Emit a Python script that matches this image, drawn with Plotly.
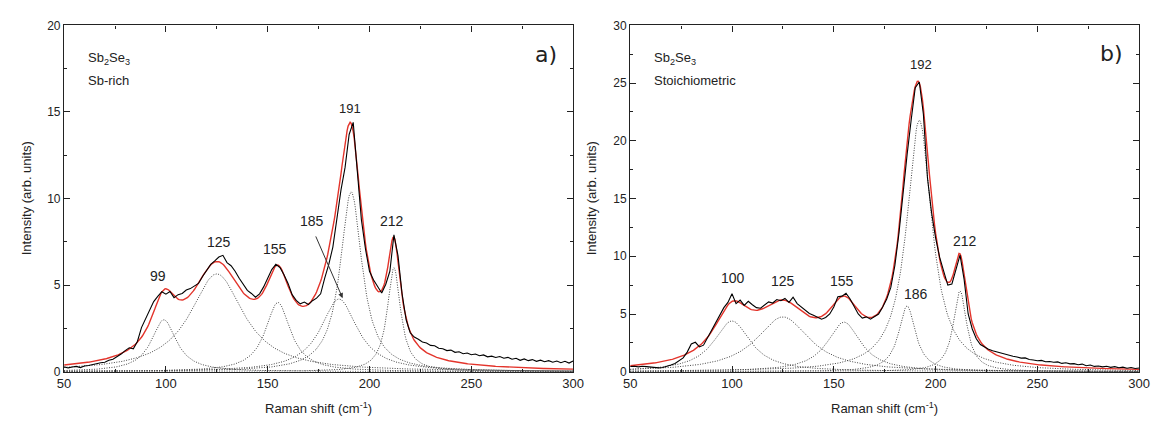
import numpy as np
import plotly.graph_objects as go

# ---------------- measured Raman spectra (step 2 cm-1, 50..300) ----------------
shift = list(range(50, 301, 2))

intensity_sb_rich = [
    0.28, 0.22, 0.27, 0.31, 0.24, 0.33, 0.36, 0.42, 0.44, 0.52,
    0.55, 0.66, 0.72, 0.86, 1.02, 1.22, 1.38, 1.32, 1.75, 2.55,
    3.05, 3.55, 4.05, 4.35, 4.62, 4.48, 4.63, 4.28, 4.45, 4.52,
    4.72, 4.80, 4.95, 5.10, 5.50, 5.85, 6.20, 6.40, 6.62, 6.72,
    6.30, 6.12, 5.80, 5.40, 5.02, 4.70, 4.52, 4.30, 4.50, 4.90,
    5.40, 5.90, 6.20, 6.02, 5.60, 5.10, 4.45, 4.12, 3.92, 4.02,
    3.88, 4.10, 4.25, 4.50, 5.40, 6.20, 7.20, 8.80, 10.50, 11.80,
    13.70, 14.40, 11.40, 8.80, 7.10, 5.80, 5.30, 4.90, 4.55, 5.05,
    5.80, 7.90, 6.70, 4.50, 3.00, 2.25, 2.00, 1.88, 1.72, 1.66,
    1.52, 1.50, 1.36, 1.33, 1.22, 1.25, 1.12, 1.15, 1.04, 1.08,
    0.98, 1.02, 0.92, 0.97, 0.86, 0.90, 0.82, 0.88, 0.78, 0.83,
    0.72, 0.78, 0.66, 0.74, 0.64, 0.70, 0.60, 0.67, 0.58, 0.64,
    0.55, 0.62, 0.52, 0.60, 0.50, 0.62,
]

intensity_stoich = [
    0.45, 0.48, 0.42, 0.47, 0.44, 0.40, 0.38, 0.33, 0.36, 0.45,
    0.58, 0.72, 0.95, 1.20, 1.70, 2.40, 2.55, 2.15, 2.30, 2.95,
    3.60, 4.20, 4.90, 5.55, 6.00, 6.75, 5.90, 6.20, 5.75, 6.10,
    5.80, 5.55, 5.50, 5.75, 6.05, 5.95, 6.25, 6.15, 6.35, 6.00,
    6.45, 5.90, 5.60, 5.30, 5.05, 4.90, 4.75, 4.55, 4.70, 5.00,
    5.60, 6.50, 6.55, 6.80, 6.30, 5.70, 5.00, 4.65, 4.75, 4.55,
    4.80, 5.00, 5.60, 6.30, 7.30, 9.20, 12.00, 15.50, 18.80, 21.80,
    24.60, 25.10, 22.30, 16.80, 13.80, 11.60, 9.90, 8.70, 7.50, 7.60,
    8.90, 10.10, 8.00, 5.00, 3.70, 2.85, 2.35, 2.12, 1.95, 1.82,
    1.72, 1.58, 1.52, 1.40, 1.34, 1.28, 1.18, 1.20, 1.06, 1.02,
    0.95, 0.98, 0.86, 0.88, 0.82, 0.85, 0.72, 0.78, 0.68, 0.70,
    0.60, 0.66, 0.52, 0.58, 0.46, 0.50, 0.42, 0.47, 0.38, 0.44,
    0.34, 0.40, 0.30, 0.36, 0.28, 0.32,
]

# ---------------- Lorentzian fit components: centre, height, half width ----------------
peaks_sb_rich = [99, 125, 155, 185, 191, 212]
heights_sb_rich = [3.0, 5.65, 4.0, 4.2, 10.4, 6.0]
hwhm_sb_rich = [7.5, 16.0, 7.5, 11.0, 6.5, 4.0]

peaks_stoich = [100, 125, 155, 186, 192, 212]
heights_stoich = [4.4, 4.75, 4.3, 5.7, 21.8, 7.0]
hwhm_stoich = [11.0, 16.0, 10.0, 5.0, 7.5, 4.0]

# peak annotation positions (data coords) and texts
labels_sb_rich = ["99", "125", "155", "185", "191", "212"]
label_x_sb_rich = [96.0, 125.9, 153.5, 171.9, 190.2, 211.0]
label_y_sb_rich = [5.5, 7.5, 7.1, 8.7, 15.2, 8.7]

labels_stoich = ["100", "125", "155", "186", "192", "212"]
label_x_stoich = [100.3, 125.0, 154.0, 190.2, 192.6, 214.4]
label_y_stoich = [8.1, 7.9, 7.9, 6.7, 26.6, 11.3]

FONT = "Liberation Sans, Arial, sans-serif"
AXIS_COLOR = "#222222"
FIT_RED = "#e3342b"
COMP_GREY = "#444444"

grid = np.arange(50, 300.01, 0.5)


def lorentz(x, x0, h, w):
    return h / (1.0 + ((x - x0) / w) ** 2)


fig = go.Figure()


def add_panel(xa, ya, data, centers, heights, widths):
    comps = [lorentz(grid, c, h, w) for c, h, w in zip(centers, heights, widths)]
    for comp in comps:
        fig.add_trace(go.Scatter(x=grid, y=comp, mode="lines", xaxis=xa, yaxis=ya,
                                 line=dict(color=COMP_GREY, width=1, dash="1px,1.5px"),
                                 hoverinfo="skip", showlegend=False))
    fig.add_trace(go.Scatter(x=grid, y=np.sum(comps, axis=0), mode="lines",
                             xaxis=xa, yaxis=ya,
                             line=dict(color=FIT_RED, width=1.4),
                             showlegend=False))
    fig.add_trace(go.Scatter(x=shift, y=data, mode="lines", xaxis=xa, yaxis=ya,
                             line=dict(color="black", width=1.1),
                             showlegend=False))


add_panel("x", "y", intensity_sb_rich, peaks_sb_rich, heights_sb_rich, hwhm_sb_rich)
add_panel("x2", "y2", intensity_stoich, peaks_stoich, heights_stoich, hwhm_stoich)

common_x = dict(range=[50, 300], tickvals=[50, 100, 150, 200, 250, 300],
                ticks="inside", ticklen=6, tickwidth=1.2, tickcolor=AXIS_COLOR,
                showline=True, linecolor=AXIS_COLOR, linewidth=1.3, mirror="allticks",
                showgrid=False, zeroline=False,
                minor=dict(dtick=25, tick0=50, ticks="inside", ticklen=3,
                           tickcolor=AXIS_COLOR, showgrid=False),
                tickfont=dict(family=FONT, size=13, color=AXIS_COLOR))
common_y = dict(ticks="inside", ticklen=6, tickwidth=1.2, tickcolor=AXIS_COLOR,
                showline=True, linecolor=AXIS_COLOR, linewidth=1.3, mirror="allticks",
                showgrid=False, zeroline=False, dtick=5,
                minor=dict(dtick=2.5, ticks="inside", ticklen=3,
                           tickcolor=AXIS_COLOR, showgrid=False),
                tickfont=dict(family=FONT, size=12, color=AXIS_COLOR))

y_dom = [1 - 377 / 430, 1 - 19 / 430]
fig.update_layout(
    width=1163, height=430,
    margin=dict(l=0, r=0, t=0, b=0),
    paper_bgcolor="white", plot_bgcolor="white",
    xaxis=dict(domain=[58 / 1163, 575 / 1163], anchor="y", **common_x),
    yaxis=dict(domain=y_dom, anchor="x", range=[0, 20], **common_y),
    xaxis2=dict(domain=[633 / 1163, 1150 / 1163], anchor="y2", **common_x),
    yaxis2=dict(domain=y_dom, anchor="x2", range=[0, 30], **common_y),
)

ann = []
# axis titles
for xc in [316.5 / 1163, 891.5 / 1163]:
    ann.append(dict(text="Raman shift (cm<sup>-1</sup>)", xref="paper", yref="paper",
                    x=xc, y=1 - 414 / 430, xanchor="center", yanchor="middle",
                    showarrow=False, font=dict(family=FONT, size=13, color=AXIS_COLOR)))
for xc in [20 / 1163, 594 / 1163]:
    ann.append(dict(text="Intensity (arb. units)", xref="paper", yref="paper",
                    x=xc, y=1 - 198 / 430, xanchor="center", yanchor="middle",
                    textangle=-90, showarrow=False,
                    font=dict(family=FONT, size=13, color=AXIS_COLOR)))

# sample names
for xr, yr, top, bottom in [("x", "y", "Sb<sub>2</sub>Se<sub>3</sub>", "Sb-rich"),
                            ("x2", "y2", "Sb<sub>2</sub>Se<sub>3</sub>", "Stoichiometric")]:
    ann.append(dict(text=top, xref=xr + " domain", yref=yr + " domain", x=0.043, y=0.905,
                    xanchor="left", yanchor="middle", showarrow=False,
                    font=dict(family=FONT, size=13, color=AXIS_COLOR)))
    ann.append(dict(text=bottom, xref=xr + " domain", yref=yr + " domain", x=0.043, y=0.84,
                    xanchor="left", yanchor="middle", showarrow=False,
                    font=dict(family=FONT, size=13, color=AXIS_COLOR)))

# panel letters
ann.append(dict(text="a)", xref="x domain", yref="y domain", x=0.972, y=0.915,
                xanchor="right", yanchor="middle", showarrow=False,
                font=dict(family="DejaVu Sans, Verdana", size=22, color=AXIS_COLOR)))
ann.append(dict(text="b)", xref="x2 domain", yref="y2 domain", x=0.972, y=0.92,
                xanchor="right", yanchor="middle", showarrow=False,
                font=dict(family="DejaVu Sans, Verdana", size=22, color=AXIS_COLOR)))

# peak labels
for xr, yr, texts, xs, ys in [("x", "y", labels_sb_rich, label_x_sb_rich, label_y_sb_rich),
                              ("x2", "y2", labels_stoich, label_x_stoich, label_y_stoich)]:
    for t, xv, yv in zip(texts, xs, ys):
        size = 13 if t in ("191", "192") else 14
        ann.append(dict(text=t, xref=xr, yref=yr, x=xv, y=yv, xanchor="center",
                        yanchor="middle", showarrow=False,
                        font=dict(family=FONT, size=size, color=AXIS_COLOR)))

# arrow pointing at the 185 cm-1 component
ann.append(dict(text="", xref="x", yref="y", x=186.8, y=4.25, axref="x", ayref="y",
                ax=173.3, ay=7.9, showarrow=True, arrowhead=2, arrowsize=1,
                arrowwidth=1, arrowcolor="#333333"))

fig.update_layout(annotations=ann)

fig.write_html("out.html")
